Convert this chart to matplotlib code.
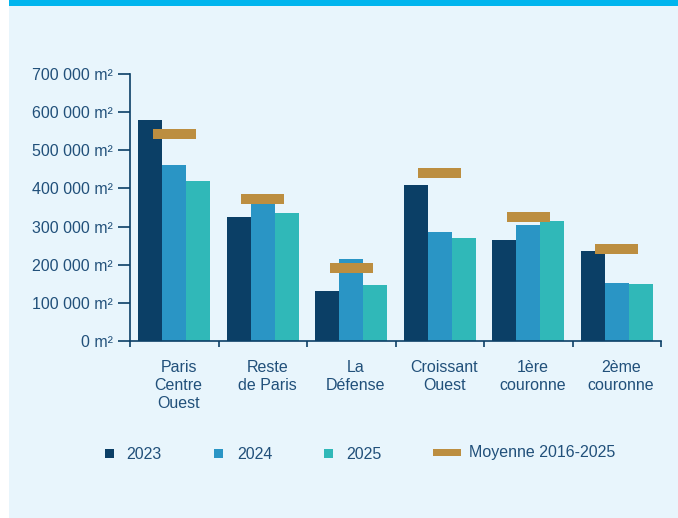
import matplotlib
matplotlib.use("Agg")
import matplotlib.pyplot as plt
from matplotlib.patches import Rectangle
import numpy as np

categories = ["Paris\nCentre\nOuest", "Reste\nde Paris", "La\nDéfense",
              "Croissant\nOuest", "1ère\ncouronne", "2ème\ncouronne"]
v2023 = [579000, 325000, 132000, 408000, 266000, 237000]
v2024 = [461000, 362000, 214000, 287000, 303000, 153000]
v2025 = [419000, 335000, 148000, 269000, 314000, 150000]
moyenne = [543000, 372000, 192000, 440000, 324000, 240000]
yticks = [0, 100000, 200000, 300000, 400000, 500000, 600000, 700000]
ytick_labels = ["0 m²", "100 000 m²", "200 000 m²", "300 000 m²",
                "400 000 m²", "500 000 m²", "600 000 m²", "700 000 m²"]
series_names = ["2023", "2024", "2025"]
avg_name = "Moyenne 2016-2025"

C23, C24, C25, CAVG = "#0B3F66", "#2A95C5", "#30B8B8", "#BC8E40"
TXT = "#21507A"
AX = "#0B3F66"
W, H = 678, 518

plt.rcParams['font.family'] = ['Liberation Sans', 'DejaVu Sans']
fig = plt.figure(figsize=(W / 100, H / 100), dpi=100, facecolor="white")

# background panel and top stripe
fig.add_artist(Rectangle((9 / W, 0), 1 - 9 / W, (H - 6) / H, transform=fig.transFigure,
                         facecolor="#E8F5FC", edgecolor="none", zorder=-10))
fig.add_artist(Rectangle((9 / W, (H - 6) / H), 1 - 9 / W, 6 / H, transform=fig.transFigure,
                         facecolor="#00B5EE", edgecolor="none", zorder=-10))

left, right, bottom, top = 130 / W, 661 / W, (H - 341) / H, (H - 74) / H
ax = fig.add_axes([left, bottom, right - left, top - bottom])
ax.set_facecolor("none")

x = np.arange(len(categories))
bw = 0.271
ax.bar(x - bw, v2023, bw, color=C23, zorder=2)
ax.bar(x, v2024, bw, color=C24, zorder=2)
ax.bar(x + bw, v2025, bw, color=C25, zorder=2)
ax.hlines(moyenne, x - 0.243, x + 0.243, colors=CAVG, linewidth=7.2, zorder=3)

ax.set_xlim(-0.5, len(categories) - 0.5)
ax.set_ylim(0, 700000)

for s in ["top", "right"]:
    ax.spines[s].set_visible(False)
for s in ["left", "bottom"]:
    ax.spines[s].set_color(AX)
    ax.spines[s].set_linewidth(1.2)

ax.set_yticks(yticks)
ax.set_yticklabels(ytick_labels)
ax.tick_params(axis="y", direction="out", length=8.6, width=1.2, color=AX,
               labelcolor=TXT, labelsize=11.5, pad=4)

ax.set_xticks(np.arange(-0.5, len(categories), 1.0))
ax.set_xticklabels([])
ax.tick_params(axis="x", which="major", direction="out", length=4.3, width=1.2, color=AX)
ax.set_xticks(x + 0.05, minor=True)
ax.set_xticklabels(categories, minor=True)
ax.tick_params(axis="x", which="minor", length=0, labelcolor=TXT, labelsize=11.5, pad=13.5)
for lab in ax.get_xticklabels(minor=True):
    lab.set_linespacing(1.28)

# legend
def fx(px):
    return px / W

def fy(py):
    return (H - py) / H

colors = [C23, C24, C25]
sq_x = [105, 214, 324]
tx_x = [126, 237, 346]
for name, c, sx, tx in zip(series_names, colors, sq_x, tx_x):
    fig.add_artist(Rectangle((fx(sx), fy(458)), 9 / W, 9 / H, transform=fig.transFigure,
                             facecolor=c, edgecolor="none"))
    fig.text(fx(tx), fy(459), name, color=TXT, fontsize=11.5, va="baseline", ha="left")
fig.add_artist(Rectangle((fx(433), fy(456)), 28 / W, 7 / H, transform=fig.transFigure,
                         facecolor=CAVG, edgecolor="none"))
fig.text(fx(469), fy(456.5), avg_name, color=TXT, fontsize=11.5, va="baseline", ha="left")

fig.savefig("out.png", dpi=100, facecolor=fig.get_facecolor())
